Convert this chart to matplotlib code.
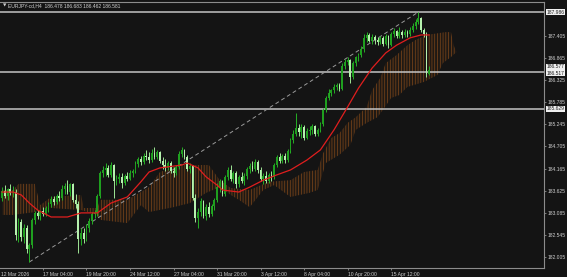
import matplotlib
matplotlib.use("Agg")
import matplotlib.pyplot as plt
import matplotlib.transforms as mtransforms
import numpy as np

# ---------------- data (EURJPY H4) ----------------
opens = [183.45, 183.62, 183.50, 183.66, 183.57, 183.60, 182.54, 182.86, 182.50, 182.72,
         182.20, 182.29, 182.90, 183.08, 183.00, 183.12, 183.05, 183.20, 183.30, 183.42,
         183.35, 183.50, 183.45, 183.66, 183.74, 183.58, 183.78, 183.40, 183.30, 182.45,
         182.60, 182.45, 182.70, 182.88, 183.05, 183.08, 183.50, 184.05, 184.12, 184.18,
         184.00, 184.25, 183.85, 183.90, 183.95, 183.80, 183.98, 183.92, 184.05, 184.10,
         184.28, 184.40, 184.32, 184.48, 184.45, 184.38, 184.55, 184.45, 184.58, 184.35,
         184.25, 184.18, 184.30, 184.10, 184.05, 184.20, 184.52, 184.62, 184.45, 184.15,
         184.22, 183.45, 182.95, 183.10, 183.38, 183.00, 183.22, 183.05, 183.25, 183.40,
         183.72, 183.85, 183.55, 183.95, 184.12, 183.90, 184.05, 183.78, 183.95, 183.85,
         183.98, 184.15, 184.22, 184.15, 184.32, 184.12, 183.90, 183.98, 183.85, 184.00,
         183.95, 184.25, 184.45, 184.35, 184.48, 184.38, 184.60, 184.85, 185.00, 185.15,
         185.05, 185.18, 184.92, 185.08, 185.10, 185.20, 185.00, 185.10, 185.25, 185.60,
         185.90, 186.02, 186.08, 186.15, 186.20, 186.12, 186.68, 186.76, 186.82, 186.40,
         186.75, 186.88, 186.95, 187.08, 187.35, 187.42, 187.28, 187.38, 187.30, 187.25,
         187.36, 187.22, 187.40, 187.18, 187.45, 187.52, 187.40, 187.50, 187.42, 187.50,
         187.45, 187.55, 187.65, 187.75, 187.85, 187.55, 187.45, 186.478]
highs = [183.72, 183.76, 183.70, 183.79, 183.74, 183.66, 182.95, 182.93, 182.80, 182.78,
         182.35, 182.95, 183.12, 183.15, 183.15, 183.22, 183.25, 183.35, 183.50, 183.50,
         183.55, 183.62, 183.75, 183.80, 183.88, 183.82, 183.82, 183.55, 183.38, 182.70,
         182.72, 182.80, 182.95, 183.10, 183.15, 183.55, 184.10, 184.22, 184.30, 184.25,
         184.32, 184.28, 184.00, 184.05, 184.05, 184.02, 184.08, 184.12, 184.15, 184.35,
         184.45, 184.48, 184.55, 184.62, 184.58, 184.65, 184.70, 184.62, 184.60, 184.45,
         184.40, 184.35, 184.35, 184.20, 184.25, 184.60, 184.70, 184.65, 184.50, 184.30,
         184.25, 183.55, 183.20, 183.45, 183.40, 183.30, 183.35, 183.30, 183.45, 183.80,
         183.90, 183.88, 184.00, 184.20, 184.25, 184.10, 184.10, 184.00, 184.08, 184.05,
         184.20, 184.30, 184.35, 184.40, 184.38, 184.20, 184.05, 184.10, 184.05, 184.10,
         184.30, 184.50, 184.55, 184.52, 184.55, 184.65, 184.90, 185.10, 185.52, 185.25,
         185.25, 185.22, 185.15, 185.20, 185.25, 185.22, 185.15, 185.30, 185.65, 185.95,
         186.10, 186.12, 186.22, 186.25, 186.25, 186.75, 186.85, 186.90, 186.85, 186.80,
         186.92, 187.00, 187.15, 187.45, 187.50, 187.48, 187.45, 187.42, 187.38, 187.40,
         187.40, 187.45, 187.42, 187.50, 187.60, 187.55, 187.62, 187.55, 187.58, 187.55,
         187.62, 187.72, 187.82, 187.99, 187.88, 187.60, 187.50, 186.683]
lows = [183.38, 183.45, 183.40, 183.52, 183.47, 182.42, 182.38, 182.40, 182.34, 182.10,
        181.88, 182.22, 182.80, 182.92, 182.90, 183.00, 183.00, 183.10, 183.22, 183.28,
        183.30, 183.38, 183.40, 183.55, 183.55, 183.50, 183.35, 183.20, 182.10, 182.30,
        182.35, 182.40, 182.62, 182.80, 182.95, 183.00, 183.45, 183.95, 183.98, 183.95,
        183.95, 183.45, 183.75, 183.80, 183.70, 183.75, 183.85, 183.88, 183.95, 184.05,
        184.20, 184.25, 184.28, 184.38, 184.30, 184.32, 184.40, 184.40, 184.30, 184.15,
        184.10, 184.12, 184.05, 183.95, 184.00, 184.15, 184.45, 184.40, 184.10, 184.05,
        183.40, 182.85, 182.71, 183.00, 182.95, 182.90, 182.98, 183.00, 183.15, 183.35,
        183.60, 183.50, 183.50, 183.88, 183.85, 183.80, 183.70, 183.72, 183.80, 183.75,
        183.90, 184.05, 184.10, 184.10, 184.05, 183.85, 183.78, 183.80, 183.80, 183.85,
        183.90, 184.20, 184.30, 184.30, 184.30, 184.32, 184.55, 184.80, 184.95, 184.95,
        184.90, 184.85, 184.88, 184.98, 185.00, 184.95, 184.95, 185.05, 185.20, 185.55,
        185.85, 185.95, 186.00, 186.08, 186.05, 186.08, 186.60, 186.70, 186.25, 186.35,
        186.68, 186.80, 186.90, 187.02, 187.25, 187.25, 187.22, 187.20, 187.18, 187.20,
        187.15, 187.18, 187.10, 187.15, 187.38, 187.35, 187.35, 187.35, 187.38, 187.38,
        187.40, 187.50, 187.58, 187.70, 187.50, 187.38, 186.40, 186.462]
closes = [183.62, 183.50, 183.66, 183.57, 183.60, 182.54, 182.86, 182.50, 182.72, 182.20,
          182.29, 182.90, 183.08, 183.00, 183.12, 183.05, 183.20, 183.30, 183.42, 183.35,
          183.50, 183.45, 183.66, 183.74, 183.58, 183.78, 183.40, 183.30, 182.45, 182.60,
          182.45, 182.70, 182.88, 183.05, 183.08, 183.50, 184.05, 184.12, 184.18, 184.00,
          184.25, 183.85, 183.90, 183.95, 183.80, 183.98, 183.92, 184.05, 184.10, 184.28,
          184.40, 184.32, 184.48, 184.45, 184.38, 184.55, 184.45, 184.58, 184.35, 184.25,
          184.18, 184.30, 184.10, 184.05, 184.20, 184.52, 184.62, 184.45, 184.15, 184.22,
          183.45, 182.95, 183.10, 183.38, 183.00, 183.22, 183.05, 183.25, 183.40, 183.72,
          183.85, 183.55, 183.95, 184.12, 183.90, 184.05, 183.78, 183.95, 183.85, 183.98,
          184.15, 184.22, 184.15, 184.32, 184.12, 183.90, 183.98, 183.85, 184.00, 183.95,
          184.25, 184.45, 184.35, 184.48, 184.38, 184.60, 184.85, 185.00, 185.15, 185.05,
          185.18, 184.92, 185.08, 185.10, 185.20, 185.00, 185.10, 185.25, 185.60, 185.90,
          186.02, 186.08, 186.15, 186.20, 186.12, 186.68, 186.76, 186.82, 186.40, 186.75,
          186.88, 186.95, 187.08, 187.35, 187.42, 187.28, 187.38, 187.30, 187.25, 187.36,
          187.22, 187.40, 187.18, 187.45, 187.52, 187.40, 187.50, 187.42, 187.50, 187.45,
          187.55, 187.65, 187.75, 187.85, 187.55, 187.45, 186.48, 186.581]

# moving average (red line), read at selected bars
ma_idx = [0, 4, 7, 10, 13, 18, 24, 29, 35, 40, 46, 51, 54, 58, 66, 68, 72, 75, 79, 81,
          87, 91, 96, 101, 106, 112, 117, 122, 127, 131, 136, 141, 145, 150, 154, 157]
ma_val = [183.59, 183.59, 183.52, 183.32, 183.15, 182.98, 182.98, 183.08, 183.08, 183.32,
          183.47, 183.84, 184.08, 184.18, 184.25, 184.30, 184.18, 183.96, 183.76, 183.64,
          183.59, 183.71, 183.88, 184.01, 184.13, 184.37, 184.62, 185.11, 185.67, 186.13,
          186.62, 186.99, 187.18, 187.36, 187.43, 187.43]

# cloud edges
cloud_up_idx = [0, 4, 6, 12, 14, 18, 29, 30, 35, 36, 46, 51, 54, 58, 65, 76, 80, 84, 91, 98,
                106, 111, 116, 118, 121, 124, 127, 130, 134, 136, 139, 141, 145, 149, 152,
                156, 163, 165, 166, 167]
cloud_up_val = [183.64, 183.64, 183.79, 183.79, 183.27, 183.47, 183.52, 183.20, 183.20, 183.40,
                183.40, 183.59, 183.71, 184.08, 184.25, 184.25, 183.88, 183.69, 183.64, 183.84,
                183.88, 184.08, 184.13, 184.54, 184.91, 185.03, 185.28, 185.42, 185.67, 186.08,
                186.38, 186.74, 186.94, 187.18, 187.31, 187.43, 187.50, 187.50, 187.18, 187.01]
cloud_lo_idx = [0, 4, 12, 14, 18, 29, 35, 36, 46, 51, 54, 63, 69, 75, 80, 84, 87, 91, 94, 96,
                100, 106, 113, 116, 119, 124, 128, 130, 134, 138, 140, 143, 146, 149, 155,
                160, 162, 165, 167]
cloud_lo_val = [183.03, 183.03, 183.10, 183.15, 183.20, 183.15, 183.03, 182.91, 182.83, 183.27,
                183.10, 183.22, 183.32, 183.57, 183.71, 183.52, 183.40, 183.22, 183.47, 183.64,
                183.76, 183.47, 183.57, 183.64, 184.30, 184.50, 184.74, 185.11, 185.28, 185.42,
                185.60, 185.89, 185.96, 186.16, 186.28, 186.45, 186.74, 186.89, 187.01]

level_lines = [187.986, 186.517, 185.629]
price_boxes = [187.986, 186.577, 186.517, 185.629]

y_ticks = [187.405, 186.865, 186.325, 185.785, 185.245, 184.705, 184.165, 183.625,
           183.085, 182.545, 182.005]
x_tick_pos = [15, 31, 47, 63, 79, 95, 111, 127, 143]
x_tick_labels = ["17 Mar 04:00", "19 Mar 20:00", "24 Mar 12:00", "27 Mar 04:00",
                 "31 Mar 20:00", "3 Apr 12:00", "8 Apr 04:00", "10 Apr 20:00", "15 Apr 12:00"]
first_label = "12 Mar 2026"
header = "EURJPY-cd,H4  186.478 186.683 186.462 186.581"

# ---------------- drawing ----------------
plt.rcParams["font.family"] = ["Liberation Sans", "DejaVu Sans"]
BG = "#141414"
FG = "#cfcfcf"
FRAME = "#8c8c8c"
FS = 3.6
plt.rcParams["hatch.linewidth"] = 0.5

fig = plt.figure(figsize=(5.67, 2.77), dpi=100, facecolor=BG)
ax = fig.add_axes([0.0, 0.0325, 0.9594, 0.9603], facecolor=BG)

o = np.array(opens); h = np.array(highs); l = np.array(lows); c = np.array(closes)
idx = np.arange(len(c))
bull = c >= o
body_col = np.where(bull, "#1f9f1f", "#b6f2ae")
wick_col = np.where(bull, "#25b025", "#9fe696")

# cloud
poly_x = np.r_[cloud_up_idx, cloud_lo_idx[::-1]]
poly_y = np.r_[cloud_up_val, cloud_lo_val[::-1]]
ax.fill(poly_x, poly_y, facecolor=(0.45, 0.25, 0.08, 0.12), edgecolor="#80481a",
        hatch="||||||", linewidth=0, zorder=1)

# level lines
for v in level_lines:
    ax.axhline(v, color="#c4c4c4", lw=1.1, zorder=2)

# trend line from lowest low to highest high
imin = int(np.argmin(l)); imax = int(np.argmax(h))
ax.plot([imin, imax], [l[imin], h[imax]], color="#9a9a9a", lw=0.7,
        ls=(0, (4, 3)), zorder=2)

# candles
ax.vlines(idx, l, h, colors=wick_col, lw=0.7, zorder=3)
body_h = np.maximum(np.abs(c - o), 0.012)
ax.bar(idx, body_h, bottom=np.minimum(o, c), width=0.65, color=body_col,
       linewidth=0, zorder=4)

# moving average
ax.plot(ma_idx, ma_val, color="#e01e1e", lw=0.9, zorder=5)

ax.set_xlim(-0.8, 199.2)
ax.set_ylim(181.733, 188.236)

# y axis on the right
ax.yaxis.tick_right()
ax.set_yticks(y_ticks)
ax.set_yticklabels([f"{v:.3f}" for v in y_ticks])
ax.tick_params(axis="y", colors=FRAME, labelcolor=FG, labelsize=FS, length=1.5,
               width=0.6, pad=0.8, direction="out")

ax.set_xticks(x_tick_pos)
ax.set_xticklabels(x_tick_labels, ha="left")
ax.tick_params(axis="x", colors=FRAME, labelcolor=FG, labelsize=FS, length=1.5,
               width=0.6, pad=1.2, direction="out")
ax.text(0.002, -0.014, first_label, transform=ax.transAxes, ha="left", va="top",
        fontsize=FS, color=FG)

for s in ["top", "right", "bottom"]:
    ax.spines[s].set_color(FRAME)
    ax.spines[s].set_linewidth(0.8)
ax.spines["left"].set_visible(False)

trans = mtransforms.blended_transform_factory(ax.transAxes, ax.transData)
box_offsets = {186.577: 2.2, 186.517: -0.8}
for v in price_boxes:
    ax.annotate(f"{v:.3f}", xy=(1.004, v), xycoords=trans,
                xytext=(0, box_offsets.get(v, 0.0)), textcoords="offset points",
                ha="left", va="center", fontsize=FS, color="#202020",
                annotation_clip=False, zorder=10,
                bbox=dict(facecolor="#f0f0f0", edgecolor="none", pad=0.4))

fig.text(3 / 567, 1 - 5.5 / 277, "\u25bc", fontsize=3.2, color=FG,
         ha="left", va="center", family="DejaVu Sans")
fig.text(8 / 567, 1 - 5.5 / 277, header, fontsize=FS, color=FG,
         ha="left", va="center")

fig.savefig("out.png", dpi=100, facecolor=BG)
